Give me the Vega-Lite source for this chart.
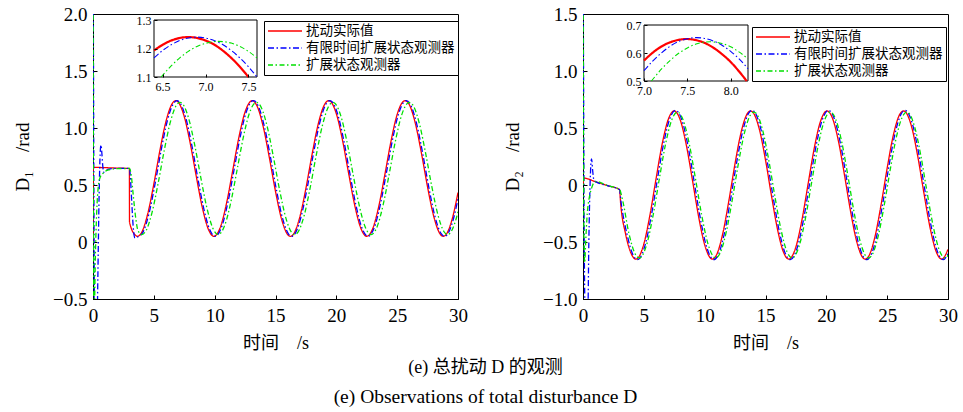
{
"$schema": "https://vega.github.io/schema/vega-lite/v6.json",
"padding": {"left": 13, "top": 4, "right": 4, "bottom": 4},
"spacing": 35,
"datasets": {
"p1": [
{"s":"r","t":0,"v":0},{"s":"r","t":0.02,"v":0.655},{"s":"r","t":1,"v":0.652},{"s":"r","t":2,"v":0.648},{"s":"r","t":2.99,"v":0.645},{"s":"r","t":3.0,"v":0.175},{"s":"r","t":3.5,"v":0.058},{"s":"r","t":3.65,"v":0.05},{"s":"r","t":4.0,"v":0.084},{"s":"r","t":4.5,"v":0.248},{"s":"r","t":5.0,"v":0.509},{"s":"r","t":5.5,"v":0.804},{"s":"r","t":6.0,"v":1.059},{"s":"r","t":6.5,"v":1.213},{"s":"r","t":6.8,"v":1.24},{"s":"r","t":7.0,"v":1.228},{"s":"r","t":7.5,"v":1.1},{"s":"r","t":8.0,"v":0.861},{"s":"r","t":8.5,"v":0.569},{"s":"r","t":9.0,"v":0.295},{"s":"r","t":9.5,"v":0.107},{"s":"r","t":9.94,"v":0.05},{"s":"r","t":10.5,"v":0.14},{"s":"r","t":11.0,"v":0.353},{"s":"r","t":11.5,"v":0.637},{"s":"r","t":12.0,"v":0.923},{"s":"r","t":12.5,"v":1.141},{"s":"r","t":13.08,"v":1.24},{"s":"r","t":13.5,"v":1.189},{"s":"r","t":14.0,"v":1.007},{"s":"r","t":14.5,"v":0.737},{"s":"r","t":15.0,"v":0.444},{"s":"r","t":15.5,"v":0.2},{"s":"r","t":16.0,"v":0.065},{"s":"r","t":16.23,"v":0.05},{"s":"r","t":16.5,"v":0.072},{"s":"r","t":17.0,"v":0.22},{"s":"r","t":17.5,"v":0.471},{"s":"r","t":18.0,"v":0.765},{"s":"r","t":18.5,"v":1.03},{"s":"r","t":19.0,"v":1.2},{"s":"r","t":19.37,"v":1.24},{"s":"r","t":19.5,"v":1.235},{"s":"r","t":20.0,"v":1.125},{"s":"r","t":20.5,"v":0.897},{"s":"r","t":21.0,"v":0.608},{"s":"r","t":21.5,"v":0.328},{"s":"r","t":22.0,"v":0.125},{"s":"r","t":22.5,"v":0.05},{"s":"r","t":23.0,"v":0.12},{"s":"r","t":23.5,"v":0.319},{"s":"r","t":24.0,"v":0.598},{"s":"r","t":24.5,"v":0.888},{"s":"r","t":25.0,"v":1.119},{"s":"r","t":25.5,"v":1.233},{"s":"r","t":25.65,"v":1.24},{"s":"r","t":26.0,"v":1.204},{"s":"r","t":26.5,"v":1.038},{"s":"r","t":27.0,"v":0.776},{"s":"r","t":27.5,"v":0.481},{"s":"r","t":28.0,"v":0.227},{"s":"r","t":28.5,"v":0.075},{"s":"r","t":28.79,"v":0.05},{"s":"r","t":29.0,"v":0.063},{"s":"r","t":29.5,"v":0.193},{"s":"r","t":30.0,"v":0.434},
{"s":"b","t":0,"v":3.0},{"s":"b","t":0.05,"v":1.2},{"s":"b","t":0.1,"v":-0.3},{"s":"b","t":0.15,"v":-0.8},{"s":"b","t":0.3,"v":-0.9},{"s":"b","t":0.4,"v":-0.3},{"s":"b","t":0.5,"v":0.4},{"s":"b","t":0.6,"v":0.8},{"s":"b","t":0.66,"v":0.85},{"s":"b","t":0.72,"v":0.79},{"s":"b","t":0.8,"v":0.67},{"s":"b","t":0.9,"v":0.61},{"s":"b","t":1.0,"v":0.62},{"s":"b","t":1.3,"v":0.64},{"s":"b","t":2.0,"v":0.646},{"s":"b","t":3.0,"v":0.645},{"s":"b","t":3.1,"v":0.52},{"s":"b","t":3.2,"v":0.32},{"s":"b","t":3.3,"v":0.14},{"s":"b","t":3.45,"v":0.035},{"s":"b","t":3.75,"v":0.05},{"s":"b","t":4.1,"v":0.084},{"s":"b","t":4.6,"v":0.248},{"s":"b","t":5.1,"v":0.509},{"s":"b","t":5.6,"v":0.804},{"s":"b","t":6.1,"v":1.059},{"s":"b","t":6.6,"v":1.213},{"s":"b","t":6.9,"v":1.24},{"s":"b","t":7.1,"v":1.228},{"s":"b","t":7.6,"v":1.1},{"s":"b","t":8.1,"v":0.861},{"s":"b","t":8.6,"v":0.569},{"s":"b","t":9.1,"v":0.295},{"s":"b","t":9.6,"v":0.107},{"s":"b","t":10.04,"v":0.05},{"s":"b","t":10.6,"v":0.14},{"s":"b","t":11.1,"v":0.353},{"s":"b","t":11.6,"v":0.637},{"s":"b","t":12.1,"v":0.923},{"s":"b","t":12.6,"v":1.141},{"s":"b","t":13.18,"v":1.24},{"s":"b","t":13.6,"v":1.189},{"s":"b","t":14.1,"v":1.007},{"s":"b","t":14.6,"v":0.737},{"s":"b","t":15.1,"v":0.444},{"s":"b","t":15.6,"v":0.2},{"s":"b","t":16.1,"v":0.065},{"s":"b","t":16.33,"v":0.05},{"s":"b","t":16.6,"v":0.072},{"s":"b","t":17.1,"v":0.22},{"s":"b","t":17.6,"v":0.471},{"s":"b","t":18.1,"v":0.765},{"s":"b","t":18.6,"v":1.03},{"s":"b","t":19.1,"v":1.2},{"s":"b","t":19.47,"v":1.24},{"s":"b","t":19.6,"v":1.235},{"s":"b","t":20.1,"v":1.125},{"s":"b","t":20.6,"v":0.897},{"s":"b","t":21.1,"v":0.608},{"s":"b","t":21.6,"v":0.328},{"s":"b","t":22.1,"v":0.125},{"s":"b","t":22.6,"v":0.05},{"s":"b","t":23.1,"v":0.12},{"s":"b","t":23.6,"v":0.319},{"s":"b","t":24.1,"v":0.598},{"s":"b","t":24.6,"v":0.888},{"s":"b","t":25.1,"v":1.119},{"s":"b","t":25.6,"v":1.233},{"s":"b","t":25.75,"v":1.24},{"s":"b","t":26.1,"v":1.204},{"s":"b","t":26.6,"v":1.038},{"s":"b","t":27.1,"v":0.776},{"s":"b","t":27.6,"v":0.481},{"s":"b","t":28.1,"v":0.227},{"s":"b","t":28.6,"v":0.075},{"s":"b","t":28.89,"v":0.05},{"s":"b","t":29.1,"v":0.063},{"s":"b","t":29.6,"v":0.193},{"s":"b","t":30.1,"v":0.434},
{"s":"g","t":0,"v":3.0},{"s":"g","t":0.03,"v":0.8},{"s":"g","t":0.06,"v":-0.6},{"s":"g","t":0.12,"v":-0.55},{"s":"g","t":0.2,"v":-0.1},{"s":"g","t":0.3,"v":0.25},{"s":"g","t":0.45,"v":0.5},{"s":"g","t":0.6,"v":0.57},{"s":"g","t":0.8,"v":0.6},{"s":"g","t":1.2,"v":0.63},{"s":"g","t":2.0,"v":0.643},{"s":"g","t":3.0,"v":0.645},{"s":"g","t":3.15,"v":0.58},{"s":"g","t":3.3,"v":0.42},{"s":"g","t":3.5,"v":0.22},{"s":"g","t":3.7,"v":0.1},{"s":"g","t":4.01,"v":0.065},{"s":"g","t":4.35,"v":0.098},{"s":"g","t":4.85,"v":0.258},{"s":"g","t":5.35,"v":0.513},{"s":"g","t":5.85,"v":0.8},{"s":"g","t":6.35,"v":1.049},{"s":"g","t":6.85,"v":1.199},{"s":"g","t":7.15,"v":1.225},{"s":"g","t":7.35,"v":1.214},{"s":"g","t":7.85,"v":1.089},{"s":"g","t":8.35,"v":0.856},{"s":"g","t":8.85,"v":0.571},{"s":"g","t":9.35,"v":0.304},{"s":"g","t":9.85,"v":0.121},{"s":"g","t":10.29,"v":0.065},{"s":"g","t":10.85,"v":0.153},{"s":"g","t":11.35,"v":0.36},{"s":"g","t":11.85,"v":0.637},{"s":"g","t":12.35,"v":0.916},{"s":"g","t":12.85,"v":1.129},{"s":"g","t":13.43,"v":1.225},{"s":"g","t":13.85,"v":1.176},{"s":"g","t":14.35,"v":0.998},{"s":"g","t":14.85,"v":0.734},{"s":"g","t":15.35,"v":0.449},{"s":"g","t":15.85,"v":0.211},{"s":"g","t":16.35,"v":0.08},{"s":"g","t":16.58,"v":0.065},{"s":"g","t":16.85,"v":0.087},{"s":"g","t":17.35,"v":0.23},{"s":"g","t":17.85,"v":0.476},{"s":"g","t":18.35,"v":0.762},{"s":"g","t":18.85,"v":1.02},{"s":"g","t":19.35,"v":1.186},{"s":"g","t":19.72,"v":1.225},{"s":"g","t":19.85,"v":1.22},{"s":"g","t":20.35,"v":1.113},{"s":"g","t":20.85,"v":0.891},{"s":"g","t":21.35,"v":0.609},{"s":"g","t":21.85,"v":0.336},{"s":"g","t":22.35,"v":0.138},{"s":"g","t":22.86,"v":0.065},{"s":"g","t":23.35,"v":0.134},{"s":"g","t":23.85,"v":0.327},{"s":"g","t":24.35,"v":0.599},{"s":"g","t":24.85,"v":0.882},{"s":"g","t":25.35,"v":1.107},{"s":"g","t":25.85,"v":1.218},{"s":"g","t":26.0,"v":1.225},{"s":"g","t":26.35,"v":1.19},{"s":"g","t":26.85,"v":1.028},{"s":"g","t":27.35,"v":0.772},{"s":"g","t":27.85,"v":0.485},{"s":"g","t":28.35,"v":0.238},{"s":"g","t":28.85,"v":0.09},{"s":"g","t":29.14,"v":0.065},{"s":"g","t":29.35,"v":0.078},{"s":"g","t":29.85,"v":0.204},{"s":"g","t":30.35,"v":0.439}
],
"p2": [
{"s":"r","t":0,"v":0},{"s":"r","t":0.08,"v":0.06},{"s":"r","t":1.0,"v":0.03},{"s":"r","t":2.0,"v":-0.005},{"s":"r","t":3.0,"v":-0.04},{"s":"r","t":3.1,"v":-0.17},{"s":"r","t":3.5,"v":-0.429},{"s":"r","t":4.0,"v":-0.611},{"s":"r","t":4.35,"v":-0.65},{"s":"r","t":4.5,"v":-0.643},{"s":"r","t":5.0,"v":-0.517},{"s":"r","t":5.5,"v":-0.265},{"s":"r","t":6.0,"v":0.052},{"s":"r","t":6.5,"v":0.356},{"s":"r","t":7.0,"v":0.573},{"s":"r","t":7.49,"v":0.65},{"s":"r","t":8.0,"v":0.568},{"s":"r","t":8.5,"v":0.346},{"s":"r","t":9.0,"v":0.04},{"s":"r","t":9.5,"v":-0.276},{"s":"r","t":10.0,"v":-0.524},{"s":"r","t":10.63,"v":-0.65},{"s":"r","t":11.0,"v":-0.607},{"s":"r","t":11.5,"v":-0.42},{"s":"r","t":12.0,"v":-0.131},{"s":"r","t":12.5,"v":0.19},{"s":"r","t":13.0,"v":0.465},{"s":"r","t":13.5,"v":0.626},{"s":"r","t":13.77,"v":0.65},{"s":"r","t":14.0,"v":0.633},{"s":"r","t":14.5,"v":0.486},{"s":"r","t":15.0,"v":0.22},{"s":"r","t":15.5,"v":-0.1},{"s":"r","t":16.0,"v":-0.396},{"s":"r","t":16.5,"v":-0.595},{"s":"r","t":16.92,"v":-0.65},{"s":"r","t":17.5,"v":-0.542},{"s":"r","t":18.0,"v":-0.304},{"s":"r","t":18.5,"v":0.009},{"s":"r","t":19.0,"v":0.319},{"s":"r","t":19.5,"v":0.552},{"s":"r","t":20.06,"v":0.65},{"s":"r","t":20.5,"v":0.587},{"s":"r","t":21.0,"v":0.382},{"s":"r","t":21.5,"v":0.083},{"s":"r","t":22.0,"v":-0.236},{"s":"r","t":22.5,"v":-0.498},{"s":"r","t":23.0,"v":-0.637},{"s":"r","t":23.2,"v":-0.65},{"s":"r","t":23.5,"v":-0.621},{"s":"r","t":24.0,"v":-0.452},{"s":"r","t":24.5,"v":-0.173},{"s":"r","t":25.0,"v":0.148},{"s":"r","t":25.5,"v":0.434},{"s":"r","t":26.0,"v":0.613},{"s":"r","t":26.34,"v":0.65},{"s":"r","t":26.5,"v":0.642},{"s":"r","t":27.0,"v":0.514},{"s":"r","t":27.5,"v":0.26},{"s":"r","t":28.0,"v":-0.058},{"s":"r","t":28.5,"v":-0.361},{"s":"r","t":29.0,"v":-0.576},{"s":"r","t":29.49,"v":-0.65},{"s":"r","t":30.0,"v":-0.565},
{"s":"b","t":0,"v":2.5},{"s":"b","t":0.05,"v":0.8},{"s":"b","t":0.1,"v":-0.5},{"s":"b","t":0.18,"v":-1.1},{"s":"b","t":0.4,"v":-1.1},{"s":"b","t":0.48,"v":-0.5},{"s":"b","t":0.58,"v":0.0},{"s":"b","t":0.7,"v":0.23},{"s":"b","t":0.8,"v":0.12},{"s":"b","t":0.9,"v":0.04},{"s":"b","t":1.0,"v":0.032},{"s":"b","t":2.0,"v":-0.005},{"s":"b","t":3.0,"v":-0.04},{"s":"b","t":3.12,"v":-0.144},{"s":"b","t":3.62,"v":-0.433},{"s":"b","t":4.12,"v":-0.616},{"s":"b","t":4.47,"v":-0.655},{"s":"b","t":4.62,"v":-0.648},{"s":"b","t":5.12,"v":-0.521},{"s":"b","t":5.62,"v":-0.267},{"s":"b","t":6.12,"v":0.052},{"s":"b","t":6.62,"v":0.359},{"s":"b","t":7.12,"v":0.578},{"s":"b","t":7.61,"v":0.655},{"s":"b","t":8.12,"v":0.572},{"s":"b","t":8.62,"v":0.349},{"s":"b","t":9.12,"v":0.04},{"s":"b","t":9.62,"v":-0.278},{"s":"b","t":10.12,"v":-0.528},{"s":"b","t":10.75,"v":-0.655},{"s":"b","t":11.12,"v":-0.611},{"s":"b","t":11.62,"v":-0.424},{"s":"b","t":12.12,"v":-0.132},{"s":"b","t":12.62,"v":0.192},{"s":"b","t":13.12,"v":0.468},{"s":"b","t":13.62,"v":0.631},{"s":"b","t":13.89,"v":0.655},{"s":"b","t":14.12,"v":0.638},{"s":"b","t":14.62,"v":0.49},{"s":"b","t":15.12,"v":0.221},{"s":"b","t":15.62,"v":-0.101},{"s":"b","t":16.12,"v":-0.399},{"s":"b","t":16.62,"v":-0.599},{"s":"b","t":17.04,"v":-0.655},{"s":"b","t":17.62,"v":-0.546},{"s":"b","t":18.12,"v":-0.306},{"s":"b","t":18.62,"v":0.009},{"s":"b","t":19.12,"v":0.322},{"s":"b","t":19.62,"v":0.556},{"s":"b","t":20.18,"v":0.655},{"s":"b","t":20.62,"v":0.592},{"s":"b","t":21.12,"v":0.385},{"s":"b","t":21.62,"v":0.084},{"s":"b","t":22.12,"v":-0.238},{"s":"b","t":22.62,"v":-0.501},{"s":"b","t":23.12,"v":-0.642},{"s":"b","t":23.32,"v":-0.655},{"s":"b","t":23.62,"v":-0.626},{"s":"b","t":24.12,"v":-0.456},{"s":"b","t":24.62,"v":-0.174},{"s":"b","t":25.12,"v":0.15},{"s":"b","t":25.62,"v":0.437},{"s":"b","t":26.12,"v":0.617},{"s":"b","t":26.46,"v":0.655},{"s":"b","t":26.62,"v":0.647},{"s":"b","t":27.12,"v":0.518},{"s":"b","t":27.62,"v":0.262},{"s":"b","t":28.12,"v":-0.058},{"s":"b","t":28.62,"v":-0.364},{"s":"b","t":29.12,"v":-0.58},{"s":"b","t":29.61,"v":-0.655},{"s":"b","t":30.12,"v":-0.569},
{"s":"g","t":0,"v":2.5},{"s":"g","t":0.04,"v":0.5},{"s":"g","t":0.08,"v":-0.5},{"s":"g","t":0.14,"v":-0.68},{"s":"g","t":0.22,"v":-0.5},{"s":"g","t":0.35,"v":-0.25},{"s":"g","t":0.5,"v":-0.12},{"s":"g","t":0.7,"v":-0.03},{"s":"g","t":0.9,"v":0.02},{"s":"g","t":1.1,"v":0.03},{"s":"g","t":2.0,"v":-0.005},{"s":"g","t":3.0,"v":-0.04},{"s":"g","t":3.27,"v":-0.141},{"s":"g","t":3.77,"v":-0.423},{"s":"g","t":4.27,"v":-0.601},{"s":"g","t":4.62,"v":-0.64},{"s":"g","t":4.77,"v":-0.633},{"s":"g","t":5.27,"v":-0.509},{"s":"g","t":5.77,"v":-0.261},{"s":"g","t":6.27,"v":0.051},{"s":"g","t":6.77,"v":0.351},{"s":"g","t":7.27,"v":0.564},{"s":"g","t":7.76,"v":0.64},{"s":"g","t":8.27,"v":0.559},{"s":"g","t":8.77,"v":0.341},{"s":"g","t":9.27,"v":0.039},{"s":"g","t":9.77,"v":-0.272},{"s":"g","t":10.27,"v":-0.516},{"s":"g","t":10.9,"v":-0.64},{"s":"g","t":11.27,"v":-0.597},{"s":"g","t":11.77,"v":-0.414},{"s":"g","t":12.27,"v":-0.129},{"s":"g","t":12.77,"v":0.187},{"s":"g","t":13.27,"v":0.458},{"s":"g","t":13.77,"v":0.616},{"s":"g","t":14.04,"v":0.64},{"s":"g","t":14.27,"v":0.624},{"s":"g","t":14.77,"v":0.479},{"s":"g","t":15.27,"v":0.216},{"s":"g","t":15.77,"v":-0.099},{"s":"g","t":16.27,"v":-0.39},{"s":"g","t":16.77,"v":-0.586},{"s":"g","t":17.19,"v":-0.64},{"s":"g","t":17.77,"v":-0.534},{"s":"g","t":18.27,"v":-0.299},{"s":"g","t":18.77,"v":0.009},{"s":"g","t":19.27,"v":0.314},{"s":"g","t":19.77,"v":0.543},{"s":"g","t":20.33,"v":0.64},{"s":"g","t":20.77,"v":0.578},{"s":"g","t":21.27,"v":0.376},{"s":"g","t":21.77,"v":0.082},{"s":"g","t":22.27,"v":-0.233},{"s":"g","t":22.77,"v":-0.49},{"s":"g","t":23.27,"v":-0.627},{"s":"g","t":23.47,"v":-0.64},{"s":"g","t":23.77,"v":-0.611},{"s":"g","t":24.27,"v":-0.445},{"s":"g","t":24.77,"v":-0.17},{"s":"g","t":25.27,"v":0.146},{"s":"g","t":25.77,"v":0.427},{"s":"g","t":26.27,"v":0.603},{"s":"g","t":26.61,"v":0.64},{"s":"g","t":26.77,"v":0.632},{"s":"g","t":27.27,"v":0.506},{"s":"g","t":27.77,"v":0.256},{"s":"g","t":28.27,"v":-0.057},{"s":"g","t":28.77,"v":-0.355},{"s":"g","t":29.27,"v":-0.567},{"s":"g","t":29.76,"v":-0.64},{"s":"g","t":30.27,"v":-0.556}
],
"i1": [
{"s":"r","t":6.4,"v":1.193},{"s":"r","t":6.5,"v":1.213},{"s":"r","t":6.6,"v":1.228},{"s":"r","t":6.7,"v":1.237},{"s":"r","t":6.8,"v":1.24},{"s":"r","t":6.9,"v":1.237},{"s":"r","t":7.0,"v":1.228},{"s":"r","t":7.1,"v":1.214},{"s":"r","t":7.2,"v":1.193},{"s":"r","t":7.3,"v":1.167},{"s":"r","t":7.4,"v":1.136},{"s":"r","t":7.5,"v":1.1},
{"s":"b","t":6.4,"v":1.167},{"s":"b","t":6.5,"v":1.193},{"s":"b","t":6.6,"v":1.213},{"s":"b","t":6.7,"v":1.228},{"s":"b","t":6.8,"v":1.237},{"s":"b","t":6.9,"v":1.24},{"s":"b","t":7.0,"v":1.237},{"s":"b","t":7.1,"v":1.228},{"s":"b","t":7.2,"v":1.214},{"s":"b","t":7.3,"v":1.193},{"s":"b","t":7.4,"v":1.167},{"s":"b","t":7.5,"v":1.136},{"s":"b","t":7.6,"v":1.1},
{"s":"g","t":6.483,"v":1.1},{"s":"g","t":6.6,"v":1.139},{"s":"g","t":6.7,"v":1.167},{"s":"g","t":6.8,"v":1.19},{"s":"g","t":6.9,"v":1.207},{"s":"g","t":7.0,"v":1.218},{"s":"g","t":7.15,"v":1.225},{"s":"g","t":7.3,"v":1.219},{"s":"g","t":7.4,"v":1.207},{"s":"g","t":7.5,"v":1.19},{"s":"g","t":7.6,"v":1.167}
],
"i2": [
{"s":"r","t":7.0,"v":0.573},{"s":"r","t":7.1,"v":0.601},{"s":"r","t":7.2,"v":0.623},{"s":"r","t":7.3,"v":0.638},{"s":"r","t":7.4,"v":0.647},{"s":"r","t":7.49,"v":0.65},{"s":"r","t":7.6,"v":0.646},{"s":"r","t":7.7,"v":0.636},{"s":"r","t":7.8,"v":0.619},{"s":"r","t":7.9,"v":0.596},{"s":"r","t":8.0,"v":0.568},{"s":"r","t":8.1,"v":0.533},{"s":"r","t":8.185,"v":0.5},
{"s":"b","t":7.0,"v":0.537},{"s":"b","t":7.1,"v":0.571},{"s":"b","t":7.2,"v":0.6},{"s":"b","t":7.3,"v":0.624},{"s":"b","t":7.4,"v":0.641},{"s":"b","t":7.5,"v":0.651},{"s":"b","t":7.61,"v":0.655},{"s":"b","t":7.7,"v":0.652},{"s":"b","t":7.8,"v":0.643},{"s":"b","t":7.9,"v":0.628},{"s":"b","t":8.0,"v":0.606},{"s":"b","t":8.1,"v":0.578},{"s":"b","t":8.2,"v":0.544},
{"s":"g","t":7.086,"v":0.5},{"s":"g","t":7.2,"v":0.542},{"s":"g","t":7.3,"v":0.573},{"s":"g","t":7.4,"v":0.599},{"s":"g","t":7.5,"v":0.618},{"s":"g","t":7.6,"v":0.632},{"s":"g","t":7.76,"v":0.64},{"s":"g","t":7.9,"v":0.634},{"s":"g","t":8.0,"v":0.622},{"s":"g","t":8.1,"v":0.603},{"s":"g","t":8.2,"v":0.579}
],
"box1": [{"x0":6.4,"x1":7.6,"y0":1.1,"y1":1.3}],
"box2": [{"x0":7.0,"x1":8.2,"y0":0.5,"y1":0.7}]
},
"title": {"text": "(e) 总扰动 D 的观测", "subtitle": "(e) Observations of total disturbance D", "orient": "bottom", "anchor": "middle", "font": "Liberation Serif, Noto Sans CJK SC", "fontSize": 18, "fontWeight": "normal", "color": "black", "subtitleFont": "Liberation Serif", "subtitleFontSize": 19.5, "subtitleColor": "black", "subtitlePadding": 11, "offset": 6},
"hconcat": [
{
"width": 365, "height": 285,
"layer": [
{"data": {"name": "p1"}, "mark": {"type": "line", "clip": true, "strokeWidth": 1.3, "interpolate": "monotone"},
 "encoding": {
  "x": {"field": "t", "type": "quantitative", "scale": {"domain": [0, 30], "nice": false, "zero": false}, "axis": {"orient": "bottom", "values": [0,5,10,15,20,25,30], "format": "d", "title": "时间\u2003/s", "labelFontSize": 19, "titleFontSize": 18, "tickSize": -4, "labelPadding": 11, "titlePadding": 9, "labelFlush": false}},
  "y": {"field": "v", "type": "quantitative", "scale": {"domain": [-0.5, 2], "nice": false, "zero": false}, "axis": {"orient": "left", "values": [-0.5,0,0.5,1,1.5,2], "labelExpr": "datum.value==0?'0':format(datum.value,'.1f')", "title": "D\u2081\u2003/rad", "labelFontSize": 19, "titleFontSize": 19, "tickSize": -4, "labelPadding": 10, "titlePadding": 20}},
  "color": {"field": "s", "type": "nominal", "scale": {"domain": ["r","b","g"], "range": ["#ff0000","#0000ff","#00e000"]}, "legend": {"orient": "none", "legendX": 171, "legendY": 7, "title": null, "symbolType": "stroke", "symbolSize": 1156, "symbolStrokeWidth": 1.4, "labelFontSize": 13.5, "labelFont": "Noto Sans CJK SC", "labelLimit": 400, "padding": 3, "rowPadding": 3, "clipHeight": 14, "labelOffset": 3, "strokeColor": "black", "fillColor": "white", "labelColor": "black", "labelExpr": "datum.label=='r'?'扰动实际值':datum.label=='b'?'有限时间扩展状态观测器':'扩展状态观测器'"}},
  "strokeDash": {"field": "s", "type": "nominal", "scale": {"domain": ["r","b","g"], "range": [[1,0],[6,2.5,1.5,2.5],[5,2.5,1.5,2.5]]}, "legend": {"orient": "none", "legendX": 171, "legendY": 7, "title": null, "symbolType": "stroke", "symbolSize": 1156, "symbolStrokeWidth": 1.4, "labelFontSize": 13.5, "labelFont": "Noto Sans CJK SC", "labelLimit": 400, "padding": 3, "rowPadding": 3, "clipHeight": 14, "labelOffset": 3, "strokeColor": "black", "fillColor": "white", "labelColor": "black", "labelExpr": "datum.label=='r'?'扰动实际值':datum.label=='b'?'有限时间扩展状态观测器':'扩展状态观测器'"}}
 }},
{"layer": [
 {"data": {"name": "box1"}, "mark": {"type": "rect", "fill": "white", "stroke": "black", "strokeWidth": 1},
  "encoding": {
   "x": {"field": "x0", "type": "quantitative", "scale": {"domain": [6.4, 7.6], "range": [61, 164], "nice": false, "zero": false}, "axis": {"orient": "bottom", "offset": -222, "values": [6.5, 7, 7.5], "format": ".1f", "title": null, "labelFontSize": 12, "tickSize": -3, "labelPadding": 7, "domain": false, "labelFlush": false, "zindex": 2}},
   "x2": {"field": "x1"},
   "y": {"field": "y0", "type": "quantitative", "scale": {"domain": [1.1, 1.3], "range": [63, 6], "nice": false, "zero": false}, "axis": {"orient": "left", "offset": -61, "values": [1.1, 1.2, 1.3], "format": ".1f", "title": null, "labelFontSize": 12, "tickSize": -3, "labelPadding": 6, "domain": false, "zindex": 2}},
   "y2": {"field": "y1"}
  }},
 {"data": {"name": "i1"}, "transform": [{"filter": "datum.s=='r'"}], "mark": {"type": "line", "strokeWidth": 2.2, "interpolate": "monotone"},
  "encoding": {
   "x": {"field": "t", "type": "quantitative", "scale": {"domain": [6.4, 7.6], "range": [61, 164], "nice": false, "zero": false}, "axis": {"orient": "bottom", "offset": -222, "values": [6.5, 7, 7.5], "format": ".1f", "title": null, "labelFontSize": 12, "tickSize": -3, "labelPadding": 7, "domain": false, "labelFlush": false, "zindex": 2}},
   "y": {"field": "v", "type": "quantitative", "scale": {"domain": [1.1, 1.3], "range": [63, 6], "nice": false, "zero": false}, "axis": {"orient": "left", "offset": -61, "values": [1.1, 1.2, 1.3], "format": ".1f", "title": null, "labelFontSize": 12, "tickSize": -3, "labelPadding": 6, "domain": false, "zindex": 2}},
   "color": {"field": "s", "type": "nominal", "scale": {"domain": ["r","b","g"], "range": ["#ff0000","#0000ff","#00e000"]}},
   "strokeDash": {"field": "s", "type": "nominal", "scale": {"domain": ["r","b","g"], "range": [[1,0],[6,2.5,1.5,2.5],[5,2.5,1.5,2.5]]}}
  }},
 {"data": {"name": "i1"}, "transform": [{"filter": "datum.s!='r'"}], "mark": {"type": "line", "strokeWidth": 1.1, "interpolate": "monotone"},
  "encoding": {
   "x": {"field": "t", "type": "quantitative", "scale": {"domain": [6.4, 7.6], "range": [61, 164], "nice": false, "zero": false}, "axis": {"orient": "bottom", "offset": -222, "values": [6.5, 7, 7.5], "format": ".1f", "title": null, "labelFontSize": 12, "tickSize": -3, "labelPadding": 7, "domain": false, "labelFlush": false, "zindex": 2}},
   "y": {"field": "v", "type": "quantitative", "scale": {"domain": [1.1, 1.3], "range": [63, 6], "nice": false, "zero": false}, "axis": {"orient": "left", "offset": -61, "values": [1.1, 1.2, 1.3], "format": ".1f", "title": null, "labelFontSize": 12, "tickSize": -3, "labelPadding": 6, "domain": false, "zindex": 2}},
   "color": {"field": "s", "type": "nominal", "scale": {"domain": ["r","b","g"], "range": ["#ff0000","#0000ff","#00e000"]}},
   "strokeDash": {"field": "s", "type": "nominal", "scale": {"domain": ["r","b","g"], "range": [[1,0],[6,2.5,1.5,2.5],[5,2.5,1.5,2.5]]}}
  }}
]}
],
"resolve": {"scale": {"x": "independent", "y": "independent"}}
},
{
"width": 365, "height": 285,
"layer": [
{"data": {"name": "p2"}, "mark": {"type": "line", "clip": true, "strokeWidth": 1.3, "interpolate": "monotone"},
 "encoding": {
  "x": {"field": "t", "type": "quantitative", "scale": {"domain": [0, 30], "nice": false, "zero": false}, "axis": {"orient": "bottom", "values": [0,5,10,15,20,25,30], "format": "d", "title": "时间\u2003/s", "labelFontSize": 19, "titleFontSize": 18, "tickSize": -4, "labelPadding": 11, "titlePadding": 9, "labelFlush": false}},
  "y": {"field": "v", "type": "quantitative", "scale": {"domain": [-1, 1.5], "nice": false, "zero": false}, "axis": {"orient": "left", "values": [-1,-0.5,0,0.5,1,1.5], "labelExpr": "datum.value==0?'0':format(datum.value,'.1f')", "title": "D\u2082\u2003/rad", "labelFontSize": 19, "titleFontSize": 19, "tickSize": -4, "labelPadding": 10, "titlePadding": 20}},
  "color": {"field": "s", "type": "nominal", "scale": {"domain": ["r","b","g"], "range": ["#ff0000","#0000ff","#00e000"]}, "legend": {"orient": "none", "legendX": 169, "legendY": 13, "title": null, "symbolType": "stroke", "symbolSize": 1156, "symbolStrokeWidth": 1.4, "labelFontSize": 13.5, "labelFont": "Noto Sans CJK SC", "labelLimit": 400, "padding": 3, "rowPadding": 3, "clipHeight": 14, "labelOffset": 3, "strokeColor": "black", "fillColor": "white", "labelColor": "black", "labelExpr": "datum.label=='r'?'扰动实际值':datum.label=='b'?'有限时间扩展状态观测器':'扩展状态观测器'"}},
  "strokeDash": {"field": "s", "type": "nominal", "scale": {"domain": ["r","b","g"], "range": [[1,0],[6,2.5,1.5,2.5],[5,2.5,1.5,2.5]]}, "legend": {"orient": "none", "legendX": 169, "legendY": 13, "title": null, "symbolType": "stroke", "symbolSize": 1156, "symbolStrokeWidth": 1.4, "labelFontSize": 13.5, "labelFont": "Noto Sans CJK SC", "labelLimit": 400, "padding": 3, "rowPadding": 3, "clipHeight": 14, "labelOffset": 3, "strokeColor": "black", "fillColor": "white", "labelColor": "black", "labelExpr": "datum.label=='r'?'扰动实际值':datum.label=='b'?'有限时间扩展状态观测器':'扩展状态观测器'"}}
 }},
{"layer": [
 {"data": {"name": "box2"}, "mark": {"type": "rect", "fill": "white", "stroke": "black", "strokeWidth": 1},
  "encoding": {
   "x": {"field": "x0", "type": "quantitative", "scale": {"domain": [7.0, 8.2], "range": [61, 165], "nice": false, "zero": false}, "axis": {"orient": "bottom", "offset": -218, "values": [7, 7.5, 8], "format": ".1f", "title": null, "labelFontSize": 12, "tickSize": -3, "labelPadding": 7, "domain": false, "labelFlush": false, "zindex": 2}},
   "x2": {"field": "x1"},
   "y": {"field": "y0", "type": "quantitative", "scale": {"domain": [0.5, 0.7], "range": [67, 11], "nice": false, "zero": false}, "axis": {"orient": "left", "offset": -61, "values": [0.5, 0.6, 0.7], "format": ".1f", "title": null, "labelFontSize": 12, "tickSize": -3, "labelPadding": 6, "domain": false, "zindex": 2}},
   "y2": {"field": "y1"}
  }},
 {"data": {"name": "i2"}, "transform": [{"filter": "datum.s=='r'"}], "mark": {"type": "line", "strokeWidth": 2.2, "interpolate": "monotone"},
  "encoding": {
   "x": {"field": "t", "type": "quantitative", "scale": {"domain": [7.0, 8.2], "range": [61, 165], "nice": false, "zero": false}, "axis": {"orient": "bottom", "offset": -218, "values": [7, 7.5, 8], "format": ".1f", "title": null, "labelFontSize": 12, "tickSize": -3, "labelPadding": 7, "domain": false, "labelFlush": false, "zindex": 2}},
   "y": {"field": "v", "type": "quantitative", "scale": {"domain": [0.5, 0.7], "range": [67, 11], "nice": false, "zero": false}, "axis": {"orient": "left", "offset": -61, "values": [0.5, 0.6, 0.7], "format": ".1f", "title": null, "labelFontSize": 12, "tickSize": -3, "labelPadding": 6, "domain": false, "zindex": 2}},
   "color": {"field": "s", "type": "nominal", "scale": {"domain": ["r","b","g"], "range": ["#ff0000","#0000ff","#00e000"]}},
   "strokeDash": {"field": "s", "type": "nominal", "scale": {"domain": ["r","b","g"], "range": [[1,0],[6,2.5,1.5,2.5],[5,2.5,1.5,2.5]]}}
  }},
 {"data": {"name": "i2"}, "transform": [{"filter": "datum.s!='r'"}], "mark": {"type": "line", "strokeWidth": 1.1, "interpolate": "monotone"},
  "encoding": {
   "x": {"field": "t", "type": "quantitative", "scale": {"domain": [7.0, 8.2], "range": [61, 165], "nice": false, "zero": false}, "axis": {"orient": "bottom", "offset": -218, "values": [7, 7.5, 8], "format": ".1f", "title": null, "labelFontSize": 12, "tickSize": -3, "labelPadding": 7, "domain": false, "labelFlush": false, "zindex": 2}},
   "y": {"field": "v", "type": "quantitative", "scale": {"domain": [0.5, 0.7], "range": [67, 11], "nice": false, "zero": false}, "axis": {"orient": "left", "offset": -61, "values": [0.5, 0.6, 0.7], "format": ".1f", "title": null, "labelFontSize": 12, "tickSize": -3, "labelPadding": 6, "domain": false, "zindex": 2}},
   "color": {"field": "s", "type": "nominal", "scale": {"domain": ["r","b","g"], "range": ["#ff0000","#0000ff","#00e000"]}},
   "strokeDash": {"field": "s", "type": "nominal", "scale": {"domain": ["r","b","g"], "range": [[1,0],[6,2.5,1.5,2.5],[5,2.5,1.5,2.5]]}}
  }}
]}
],
"resolve": {"scale": {"x": "independent", "y": "independent"}}
}
],
"resolve": {"scale": {"color": "independent", "strokeDash": "independent"}, "legend": {"color": "independent", "strokeDash": "independent"}},
"config": {
 "font": "Liberation Serif, Noto Sans CJK SC",
 "view": {"stroke": "black", "strokeWidth": 1},
 "axis": {"grid": false, "domainColor": "black", "tickColor": "black", "labelColor": "black", "titleColor": "black", "labelFont": "Liberation Serif", "titleFont": "Liberation Serif, Noto Sans CJK SC", "titleFontWeight": "normal", "zindex": 1}
}
}
